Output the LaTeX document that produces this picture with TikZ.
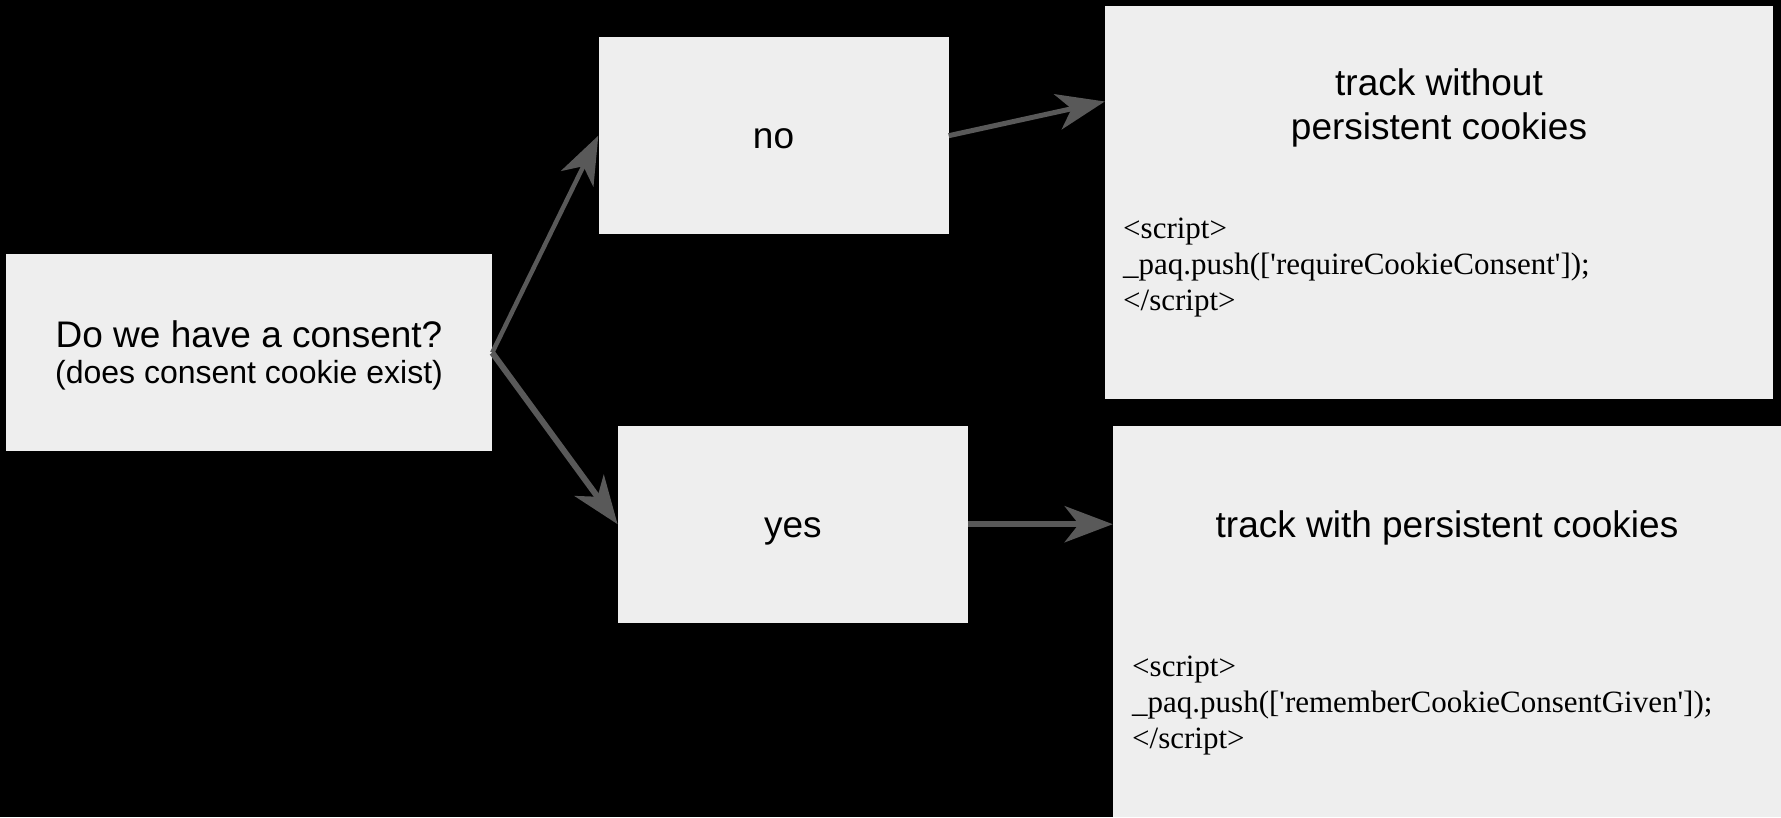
\documentclass[tikz,border=0pt]{standalone}
\usepackage{fontspec}
\setmainfont{Liberation Sans}
\newfontfamily\codefont{Liberation Serif}
\usetikzlibrary{arrows.meta,calc}
\definecolor{boxfill}{HTML}{EEEEEE}
\definecolor{arrowgray}{HTML}{595959}
\begin{document}
\begin{tikzpicture}[x=1pt,y=-1pt,
  box/.style={fill=boxfill, draw=none, inner sep=0pt, rectangle},
  bigtext/.style={font=\fontsize{37}{44}\selectfont, inner sep=0pt, anchor=base},
  smalltext/.style={font=\fontsize{32}{38}\selectfont, inner sep=0pt, anchor=base},
  codetext/.style={font=\codefont\fontsize{31}{36}\selectfont, inner sep=0pt, anchor=base west},
  link/.style={draw=arrowgray, -{Stealth[length=48pt,width=36pt,inset=14pt]}}]
\fill[black] (0,0) rectangle (1781,817);
\useasboundingbox (0,0) rectangle (1781,817);

% boxes
\node[box, minimum width=486pt, minimum height=197pt] (a) at (249,352.7) {};
\node[box, minimum width=350pt, minimum height=197pt, font=\fontsize{37}{44}\selectfont,
      text height=26.5pt, text depth=0pt] (no) at (773.5,135.7) {no};
\node[box, minimum width=350pt, minimum height=197pt, font=\fontsize{37}{44}\selectfont,
      text height=26.5pt, text depth=0pt] (yes) at (792.8,524.2) {yes};
\node[box, minimum width=668pt, minimum height=393pt] (t1) at (1439,202.2) {};
\node[box, minimum width=668pt, minimum height=391pt] (t2) at (1447,621.5) {};

% texts of the consent box
\node[bigtext] (aq1) at (249,347) {Do we have a consent?};
\node[smalltext] (aq2) at (249,383) {(does consent cookie exist)};

% texts of the first tracking box
\node[bigtext] (t1l1) at (1439,95) {track without};
\node[bigtext] (t1l2) at (1439,139) {persistent cookies};
\node[codetext] (t1c1) at (1123,238) {<script>};
\node[codetext] (t1c2) at (1123,274) {\_paq.push([\textquotesingle requireCookieConsent\textquotesingle]);};
\node[codetext] (t1c3) at (1123,310) {</script>};

% texts of the second tracking box
\node[bigtext] (t2l1) at (1447,537) {track with persistent cookies};
\node[codetext] (t2c1) at (1132,676.5) {<script>};
\node[codetext] (t2c2) at (1132,712.5) {\_paq.push([\textquotesingle rememberCookieConsentGiven\textquotesingle]);};
\node[codetext] (t2c3) at (1132,748.5) {</script>};

% connectors
\coordinate (t1in) at ($(t1.north west)!0.244!(t1.south west)$);
\draw[link, line width=4.5pt] (a.east) -- (no.west);
\draw[link, line width=6pt] (a.east) -- (yes.west);
\draw[link, line width=5pt] (no.east) -- (t1in);
\draw[link, line width=6.5pt] (yes.east) -- (yes.east -| t2.west);
\end{tikzpicture}
\end{document}
